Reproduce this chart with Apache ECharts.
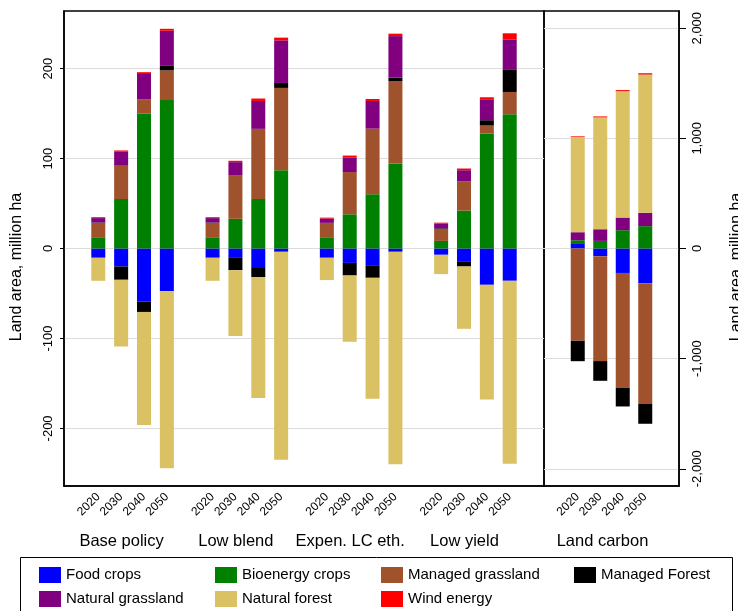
<!DOCTYPE html>
<html><head><meta charset="utf-8">
<script src="https://cdn.jsdelivr.net/npm/echarts@6/dist/echarts.min.js"></script>
<style>html,body{margin:0;padding:0;background:#fff}#c{width:738px;height:611px}</style>
</head><body><div id="c"></div>
<script>
// ---------- data ----------
const scenarios = ['Base policy', 'Low blend', 'Expen. LC eth.', 'Low yield'];
const carbonScenario = 'Land carbon';
const years = ['2020', '2030', '2040', '2050'];
const componentNames = ['Food crops', 'Bioenergy crops', 'Managed grassland', 'Managed Forest', 'Natural grassland', 'Natural forest', 'Wind energy'];
const componentColors = ['#0000ff', '#008000', '#a0522d', '#000000', '#800080', '#d9c164', '#ff0000'];
const axisTitle = 'Land area, million ha';

// left panel (million ha), order: Base policy 2020..2050, Low blend, Expen. LC eth., Low yield
const foodCrops        = [-10.3, -20, -59, -47.4,   -10.3, -10.4, -20.7, -3.7,   -10.3, -16, -19.3, -3.7,   -7, -14.8, -40.4, -35.9];
const bioenergyCrops   = [12.5, 55, 150, 165,       12.5, 33, 55, 87,            12.5, 38, 60.3, 94.4,      8.4, 42.2, 127.8, 149.2];
const managedGrassland = [16, 37, 16, 33,           16, 48, 78, 91.5,            15.5, 47, 73, 91.8,        13.3, 32.6, 8.9, 24.8];
const managedForest    = [0.5, -14.8, -11.5, 5,     0.5, -13.7, -11, 5.5,        0.5, -14, -13.3, 3.7,      0.7, -5.2, 5.9, 25.2];
const naturalGrassland = [4.8, 16, 28, 39,          4.8, 15, 31, 47.4,           4.8, 16.3, 30.7, 46.2,     5.2, 12.2, 23.3, 33.3];
const naturalForest    = [-25.6, -74, -125.6, -197, -25.6, -73.3, -134.4, -231,  -24.8, -73.7, -134.4, -236, -21.5, -69.3, -127.4, -203.3];
const windEnergy       = [1, 1, 2, 2.2,             1, 1.5, 2.7, 3,              1, 2, 2.2, 2.7,            1.1, 1.9, 2.2, 6.7];

// right panel: Land carbon 2020..2050 (million ha)
const carbonFood             = [48, -70, -222, -315];
const carbonBioenergy        = [27, 69, 166, 203];
const carbonManagedGrassland = [-838, -952, -1042, -1094];
const carbonManagedForest    = [-185, -179, -170, -182];
const carbonNaturalGrassland = [73, 106, 115, 121];
const carbonNaturalForest    = [864, 1015, 1148, 1255];
const carbonWind             = [6, 9, 9, 12];

const leftTicks = [-200, -100, 0, 100, 200];
const rightTicks = [-2000, -1000, 0, 1000, 2000];

// ---------- build ----------
const leftSeriesValues = [foodCrops, bioenergyCrops, managedGrassland, managedForest, naturalGrassland, naturalForest, windEnergy];
const rightSeriesValues = [carbonFood, carbonBioenergy, carbonManagedGrassland, carbonManagedForest, carbonNaturalGrassland, carbonNaturalForest, carbonWind];

function leftSlots(arr) {
  const out = [null];
  scenarios.forEach((s, i) => {
    if (i > 0) out.push(null);
    years.forEach((y, j) => out.push(arr[i * years.length + j]));
  });
  out.push(null);
  return out;
}
function rightSlots(arr) { return [null].concat(arr, [null]); }

const leftCategories = [''];
scenarios.forEach((s, i) => { if (i > 0) leftCategories.push(''); years.forEach(y => leftCategories.push(y)); });
leftCategories.push('');
const rightCategories = [''].concat(years, ['']);

const FONT = '"Liberation Sans", Arial, sans-serif';
const series = [];
componentNames.forEach((name, k) => {
  series.push({ name, type: 'bar', stack: 'left', xAxisIndex: 0, yAxisIndex: 0, barWidth: 14,
    itemStyle: { color: componentColors[k] }, data: leftSlots(leftSeriesValues[k]) });
  series.push({ name, type: 'bar', stack: 'right', xAxisIndex: 1, yAxisIndex: 1, barWidth: 14,
    itemStyle: { color: componentColors[k] }, data: rightSlots(rightSeriesValues[k]) });
});

const legendCols = [39, 215, 381, 574];
const legendRows = [567, 591];
const legends = componentNames.map((name, i) => ({
  data: [name], left: legendCols[i % 4], top: legendRows[Math.floor(i / 4)],
  itemWidth: 22, itemHeight: 16, icon: 'rect', padding: 0,
  textStyle: { fontSize: 15, color: '#000', fontFamily: FONT }
}));

const xAxisCommon = {
  type: 'category', axisTick: { show: false },
  axisLine: { show: true, onZero: false, lineStyle: { color: '#000', width: 1.5 } },
  axisLabel: { interval: 0, rotate: 45, fontSize: 12, color: '#000', margin: 9, fontFamily: FONT },
  splitLine: { show: false }
};

const chart = echarts.init(document.getElementById('c'), null, { renderer: 'canvas' });
chart.setOption({
  animation: false,
  backgroundColor: '#fff',
  textStyle: { fontFamily: FONT },
  grid: [
    { left: 64, top: 11, width: 480, height: 475, show: true, borderColor: '#000', borderWidth: 1.5, containLabel: false },
    { left: 544, top: 11, width: 135, height: 475, show: true, borderColor: '#000', borderWidth: 1.5, containLabel: false }
  ],
  legend: legends,
  xAxis: [
    Object.assign({}, xAxisCommon, { gridIndex: 0, data: leftCategories }),
    Object.assign({}, xAxisCommon, { gridIndex: 1, data: rightCategories })
  ],
  yAxis: [
    { type: 'value', gridIndex: 0, position: 'left', min: -264, max: 264,
      axisLine: { show: true, lineStyle: { color: '#000', width: 1.5 } },
      axisTick: { show: true, length: 4, lineStyle: { color: '#000' }, customValues: leftTicks },
      axisLabel: { rotate: 90, fontSize: 13, color: '#000', margin: 9, customValues: leftTicks, fontFamily: FONT },
      splitLine: { show: true, lineStyle: { color: '#dcdcdc', width: 1 } } },
    { type: 'value', gridIndex: 1, position: 'right', min: -2156, max: 2156,
      axisLine: { show: true, lineStyle: { color: '#000', width: 1.5 } },
      axisTick: { show: true, length: 7, lineStyle: { color: '#000' }, customValues: rightTicks },
      axisLabel: { rotate: 90, fontSize: 13, color: '#000', margin: 12, customValues: rightTicks, fontFamily: FONT },
      splitLine: { show: true, lineStyle: { color: '#dcdcdc', width: 1 } } }
  ],
  series
});

// group labels and titles as text
const graphics = [];
scenarios.forEach((s, i) => {
  const a = chart.convertToPixel({ xAxisIndex: 0 }, 1 + i * 5 + 1);
  const b = chart.convertToPixel({ xAxisIndex: 0 }, 1 + i * 5 + 2);
  graphics.push({ type: 'text', x: (a + b) / 2 - 11, y: 541,
    style: { text: s, fontSize: 16.5, fill: '#000', align: 'center', verticalAlign: 'middle', fontFamily: FONT } });
});
{
  const a = chart.convertToPixel({ xAxisIndex: 1 }, 2);
  const b = chart.convertToPixel({ xAxisIndex: 1 }, 3);
  graphics.push({ type: 'text', x: (a + b) / 2 - 9, y: 541,
    style: { text: carbonScenario, fontSize: 16.5, fill: '#000', align: 'center', verticalAlign: 'middle', fontFamily: FONT } });
}
graphics.push({ type: 'text', x: 17, y: 267, rotation: Math.PI / 2,
  style: { text: axisTitle, fontSize: 16, fill: '#000', align: 'center', verticalAlign: 'middle', fontFamily: FONT } });
graphics.push({ type: 'text', x: 737, y: 267, rotation: Math.PI / 2,
  style: { text: axisTitle, fontSize: 16, fill: '#000', align: 'center', verticalAlign: 'middle', fontFamily: FONT } });
graphics.push({ type: 'rect', shape: { x: 20.5, y: 557.5, width: 712, height: 70 },
  style: { fill: 'none', stroke: '#000', lineWidth: 1 }, z: -1 });
chart.setOption({ graphic: graphics });
</script>
</body></html>
